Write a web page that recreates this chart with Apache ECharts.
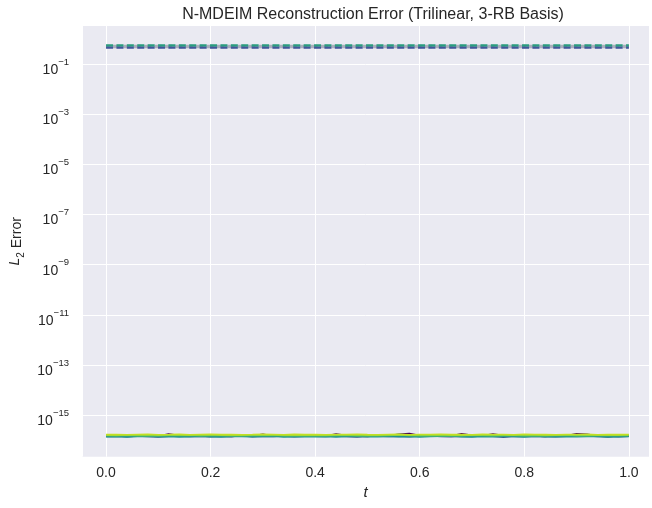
<!DOCTYPE html>
<html>
<head>
<meta charset="utf-8">
<script src="https://cdn.jsdelivr.net/npm/echarts@6/dist/echarts.min.js"></script>
<style>html,body{margin:0;padding:0;background:#fff;}#c{width:652px;height:508px;}</style>
</head>
<body>
<div id="c"></div>
<script>
// ---- data ----
const T = [0,0.02,0.04,0.06,0.08,0.10,0.12,0.14,0.16,0.18,0.20,0.22,0.24,0.26,0.28,0.30,0.32,0.34,0.36,0.38,0.40,0.42,0.44,0.46,0.48,0.50,0.52,0.54,0.56,0.58,0.60,0.62,0.64,0.66,0.68,0.70,0.72,0.74,0.76,0.78,0.80,0.82,0.84,0.86,0.88,0.90,0.92,0.94,0.96,0.98,1.00];
const UNIT = 1e-16; // values below in units of 1e-16
const ERR_PURPLE = [1.52,1.47,1.56,1.50,1.61,1.49,1.76,1.55,1.48,1.53,1.62,1.50,1.46,1.58,1.51,1.72,1.49,1.55,1.47,1.60,1.52,1.48,1.79,1.54,1.50,1.46,1.57,1.51,1.74,1.86,1.55,1.49,1.52,1.47,1.81,1.58,1.50,1.77,1.53,1.48,1.56,1.51,1.46,1.59,1.52,1.83,1.75,1.50,1.40,1.54,1.49];
const ERR_BLUE = [1.46,1.50,1.44,1.52,1.47,1.41,1.49,1.53,1.45,1.48,1.43,1.51,1.47,1.55,1.44,1.49,1.46,1.52,1.42,1.48,1.50,1.45,1.53,1.47,1.40,1.49,1.51,1.46,1.48,1.44,1.52,1.57,1.47,1.43,1.50,1.46,1.54,1.48,1.38,1.49,1.45,1.51,1.47,1.44,1.50,1.56,1.58,1.46,1.49,1.43,1.48];
const ERR_TEAL = [1.43,1.47,1.41,1.45,1.49,1.42,1.46,1.40,1.44,1.48,1.43,1.39,1.45,1.47,1.42,1.46,1.50,1.41,1.44,1.47,1.43,1.45,1.40,1.46,1.48,1.42,1.44,1.51,1.43,1.47,1.41,1.45,1.49,1.52,1.44,1.40,1.46,1.43,1.47,1.45,1.41,1.48,1.44,1.42,1.46,1.43,1.47,1.45,1.41,1.44,1.46];
const ERR_GREEN = [1.60,1.57,1.63,1.58,1.62,1.56,1.61,1.59,1.64,1.57,1.60,1.62,1.58,1.55,1.61,1.59,1.63,1.57,1.60,1.58,1.62,1.56,1.60,1.64,1.58,1.61,1.57,1.59,1.68,1.60,1.56,1.62,1.58,1.61,1.57,1.63,1.59,1.55,1.60,1.62,1.58,1.61,1.57,1.60,1.63,1.58,1.56,1.61,1.59,1.62,1.60];
const ERR_YELLOW = [1.68,1.71,1.66,1.70,1.73,1.67,1.69,1.72,1.66,1.70,1.74,1.68,1.71,1.67,1.69,1.73,1.70,1.66,1.72,1.68,1.70,1.67,1.71,1.69,1.73,1.68,1.66,1.70,1.72,1.67,1.71,1.69,1.74,1.68,1.70,1.66,1.72,1.69,1.71,1.67,1.73,1.70,1.68,1.66,1.71,1.69,1.72,1.67,1.70,1.68,1.71];
const DASH_T = [0, 1];
const DASH_GREY = [0.50, 0.50];
const DASH_BLUE = [0.452, 0.452];
const DASH_TEAL = [0.556, 0.556];
const Y_TICKS = [1e-1, 1e-3, 1e-5, 1e-7, 1e-9, 1e-11, 1e-13, 1e-15];
const X_MIN = -0.046, X_MAX = 1.0385;
const Y_MIN = Math.pow(10, -16.65), Y_MAX = Math.pow(10, 0.5146);

const FONT = '"Liberation Sans", Arial, sans-serif';
const TXT = '#262626';
const pair = (xs, ys, k) => xs.map((x, i) => [x, ys[i] * (k || 1)]);

function solid(data, color, width) {
  return { type: 'line', data: pair(T, data, UNIT), showSymbol: false, symbol: 'none',
    lineStyle: { color: color, width: width || 2 }, z: 3, animation: false };
}
function dashed(data, color, width, offset) {
  return { type: 'line', data: pair(DASH_T, data), showSymbol: false, symbol: 'none',
    lineStyle: { color: color, width: width, type: [7, 3.4], dashOffset: offset || 0 }, z: 3, animation: false };
}

const chart = echarts.init(document.getElementById('c'), null, { renderer: 'canvas' });
const greySeries = dashed(DASH_GREY, '#a9aebb', 3.6, 3.5);
greySeries.z = 2;
// horizontal grid lines + tick labels of the log axis (every second decade)
greySeries.markLine = {
  silent: true, symbol: ['none', 'none'], animation: false, precision: 20,
  lineStyle: { color: '#ffffff', width: 1, type: 'solid' },
  emphasis: { disabled: true },
  label: {
    show: true, position: 'start', distance: 13,
    formatter: function (p) {
      const r = Math.round(Math.log10(p.value));
      return '{b|10}{s|\u2212' + Math.abs(r) + '}';
    },
    rich: {
      b: { fontFamily: FONT, fontSize: 14, color: TXT, lineHeight: 14, padding: [6, 0, 0, 0], verticalAlign: 'top' },
      s: { fontFamily: FONT, fontSize: 9.5, color: TXT, lineHeight: 10, padding: [0, 0, 0, 0], verticalAlign: 'top' }
    }
  },
  data: Y_TICKS.map(v => ({ yAxis: v }))
};

chart.setOption({
  animation: false,
  backgroundColor: '#ffffff',
  title: {
    text: 'N-MDEIM Reconstruction Error (Trilinear, 3-RB Basis)',
    left: 368, top: 2, textAlign: 'center',
    textStyle: { fontFamily: FONT, fontSize: 16, fontWeight: 'normal', color: TXT }
  },
  grid: { left: 78, top: 26, right: 0, bottom: 51.3, show: true, backgroundColor: '#eaeaf2', borderWidth: 0 },
  xAxis: {
    type: 'value', min: X_MIN, max: X_MAX,
    axisLine: { show: false }, axisTick: { show: false },
    splitLine: { show: true, lineStyle: { color: '#ffffff', width: 1 } },
    axisLabel: {
      fontFamily: FONT, fontSize: 14, color: TXT, margin: 9,
      formatter: v => (Math.abs(v * 5 - Math.round(v * 5)) < 1e-9 ? v.toFixed(1) : '')
    },
    name: 't', nameLocation: 'middle', nameGap: 29,
    nameTextStyle: { fontFamily: FONT, fontSize: 15, fontStyle: 'italic', color: TXT }
  },
  yAxis: {
    type: 'log', logBase: 10, min: Y_MIN, max: Y_MAX,
    axisLine: { show: false }, axisTick: { show: false },
    splitLine: { show: false }, minorSplitLine: { show: false },
    axisLabel: { show: false },
    name: '{i|L}{sub|2} Error', nameLocation: 'middle', nameGap: 56,
    nameTextStyle: {
      color: TXT, fontFamily: FONT, fontSize: 14,
      rich: {
        i: { fontFamily: FONT, fontSize: 14, fontStyle: 'italic', color: TXT, lineHeight: 18, verticalAlign: 'top' },
        sub: { fontFamily: FONT, fontSize: 10, color: TXT, lineHeight: 10, padding: [8, 0, 0, 0], verticalAlign: 'top' }
      }
    }
  },
  series: [
    greySeries,
    dashed(DASH_BLUE, '#42559a', 2.6, 0),
    dashed(DASH_TEAL, '#2a9d7f', 2.2, 0),
    solid(ERR_PURPLE, '#440154', 1.8),
    solid(ERR_BLUE, '#3b528b', 2),
    solid(ERR_TEAL, '#21918c', 2),
    solid(ERR_GREEN, '#5ec962', 2),
    solid(ERR_YELLOW, '#c2df23', 1.8)
  ]
});
</script>
</body>
</html>
